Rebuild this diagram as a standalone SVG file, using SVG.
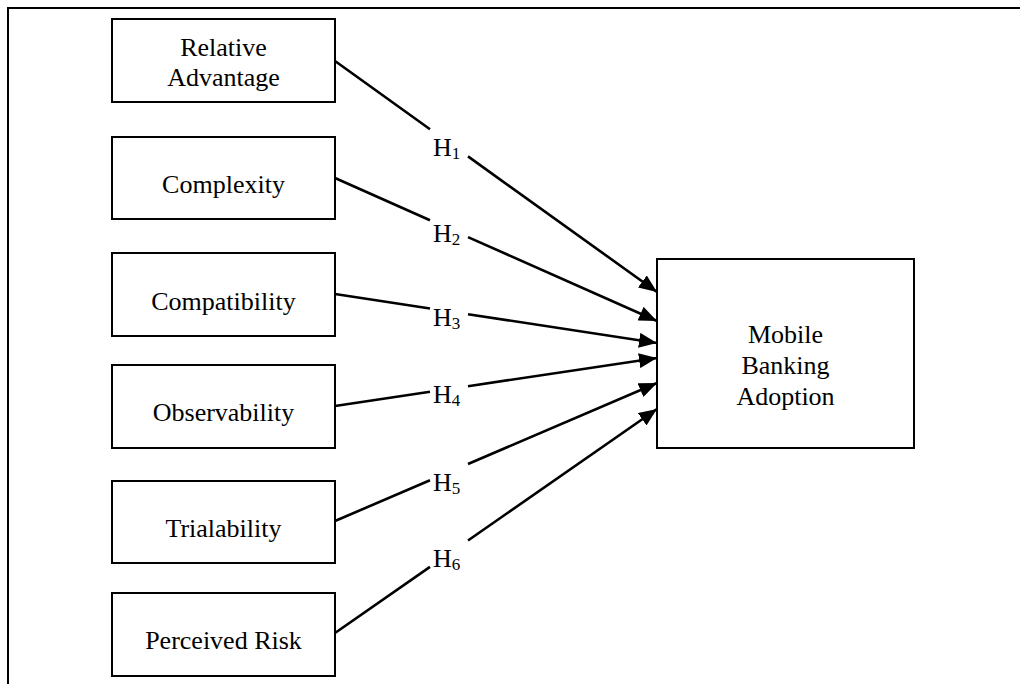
<svg xmlns="http://www.w3.org/2000/svg" width="1020" height="684" viewBox="0 0 1020 684">
<style>
.box{fill:#fff;stroke:#000;stroke-width:2}
.t{font-family:"Liberation Serif","Times New Roman",serif;font-size:26px;fill:#000}
.c{text-anchor:middle}
.sub{font-size:17px}
.ln{fill:none;stroke:#000;stroke-width:2.6}
</style>
<defs>
<marker id="ah" markerUnits="userSpaceOnUse" markerWidth="19" markerHeight="15" refX="18" refY="7.5" orient="auto" viewBox="0 0 19 15">
<path d="M0,0 L18,7.5 L0,15 z" fill="#000"/>
</marker>
</defs>
<rect width="1020" height="684" fill="#fff"/>
<g id="frame">
<path d="M8,684 L8,8 L1020,8" fill="none" stroke="#000" stroke-width="2"/>
</g>
<g id="connectors">
<path class="ln" d="M335,61 L430,129.2 M468,156.4 L657,292" marker-end="url(#ah)"/>
<path class="ln" d="M335,178 L430,220.2 M468,237.1 L657,321" marker-end="url(#ah)"/>
<path class="ln" d="M335,294 L430,308.5 M468,314.2 L657,343" marker-end="url(#ah)"/>
<path class="ln" d="M335,406 L430,391.8 M468,386.2 L657,358" marker-end="url(#ah)"/>
<path class="ln" d="M335,521 L430,480.3 M468,464 L657,383" marker-end="url(#ah)"/>
<path class="ln" d="M335,633 L430,566.9 M468,540.5 L657,409" marker-end="url(#ah)"/>
</g>
<g id="labels">
<text class="t" x="433" y="156">H<tspan class="sub" dy="3">1</tspan></text>
<text class="t" x="433" y="242">H<tspan class="sub" dy="3">2</tspan></text>
<text class="t" x="433" y="326">H<tspan class="sub" dy="3">3</tspan></text>
<text class="t" x="433" y="403">H<tspan class="sub" dy="3">4</tspan></text>
<text class="t" x="433" y="491">H<tspan class="sub" dy="3">5</tspan></text>
<text class="t" x="433" y="567">H<tspan class="sub" dy="3">6</tspan></text>
</g>
<g id="relative-advantage">
<rect class="box" x="112" y="19" width="223" height="83"/>
<text class="t c" x="223.5" y="56">Relative</text>
<text class="t c" x="223.5" y="86">Advantage</text>
</g>
<g id="complexity">
<rect class="box" x="112" y="137" width="223" height="82"/>
<text class="t c" x="223.5" y="193">Complexity</text>
</g>
<g id="compatibility">
<rect class="box" x="112" y="253" width="223" height="83"/>
<text class="t c" x="223.5" y="310">Compatibility</text>
</g>
<g id="observability">
<rect class="box" x="112" y="365" width="223" height="83"/>
<text class="t c" x="223.5" y="421">Observability</text>
</g>
<g id="trialability">
<rect class="box" x="112" y="481" width="223" height="82"/>
<text class="t c" x="223.5" y="537">Trialability</text>
</g>
<g id="perceived-risk">
<rect class="box" x="112" y="593" width="223" height="83"/>
<text class="t c" x="223.5" y="649">Perceived Risk</text>
</g>
<g id="mobile-banking-adoption">
<rect class="box" x="657" y="259" width="257" height="189"/>
<text class="t c" x="785.5" y="343">Mobile</text>
<text class="t c" x="785.5" y="374">Banking</text>
<text class="t c" x="785.5" y="405">Adoption</text>
</g>
</svg>
